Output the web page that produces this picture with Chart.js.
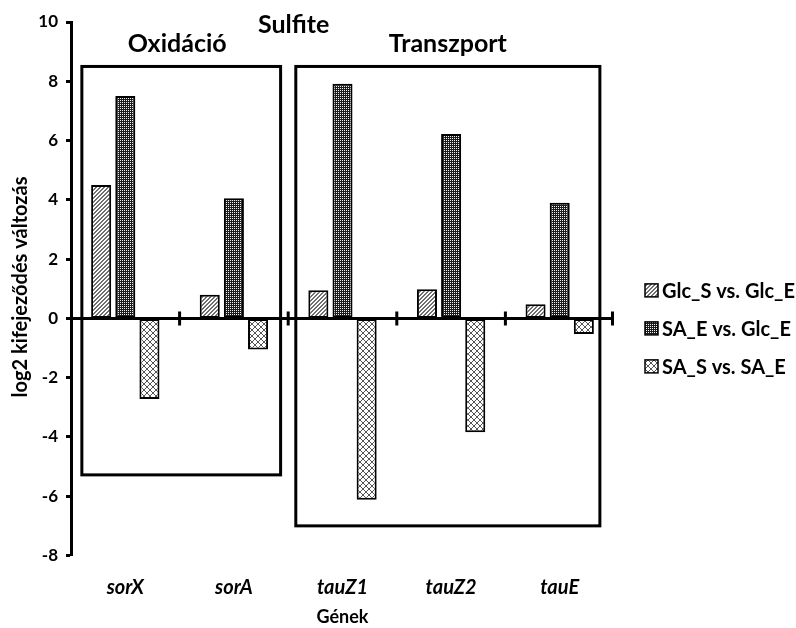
<!DOCTYPE html>
<html>
<head>
<meta charset="utf-8">
<script src="https://cdn.jsdelivr.net/npm/chart.js@4/dist/chart.umd.min.js"></script>
<style>
  html, body { margin: 0; padding: 0; background: #fff; }
  canvas { display: block; }
</style>
</head>
<body>
<canvas id="c" width="796" height="628"></canvas>
<script>
// Gene categories and log2 fold changes per comparison
const categories = ['sorX', 'sorA', 'tauZ1', 'tauZ2', 'tauE'];
const seriesNames = ['Glc_S vs. Glc_E', 'SA_E vs. Glc_E', 'SA_S vs. SA_E'];
const glcS_vs_glcE = [4.5, 0.8, 0.95, 0.98, 0.48];
const saE_vs_glcE = [7.5, 4.05, 7.92, 6.22, 3.9];
const saS_vs_saE = [-2.72, -1.05, -6.12, -3.84, -0.53];

// Value axis ticks
const yMin = -8, yMax = 10, yStep = 2;

// Functional groups: name, category-index span, value span of the frame
const groupNames = ['Oxidáció', 'Transzport'];
const groupSpan = [[-0.4, 1.43], [1.57, 4.37]];
const groupRange = [[-5.28, 8.5], [-7.0, 8.5]];

const mainTitle = 'Sulfite';
const yTitle = 'log2 kifejeződés változás';
const xTitle = 'Gének';

const FONT = 'Lato, "Open Sans", "DejaVu Sans", sans-serif';

const canvas = document.getElementById('c');
const ctx = canvas.getContext('2d');

// Small pixel tiles used as bar fills
function tile(n, bg, fg, on) {
  const c = document.createElement('canvas');
  c.width = n; c.height = n;
  const t = c.getContext('2d');
  t.fillStyle = bg; t.fillRect(0, 0, n, n);
  t.fillStyle = fg;
  for (let i = 0; i < n; i++)
    for (let j = 0; j < n; j++)
      if (on(i, j)) t.fillRect(i, j, 1, 1);
  return ctx.createPattern(c, 'repeat');
}
const fillDiag = tile(4, '#ffffff', '#6e6e6e', (i, j) => (i + j) % 4 >= 2);
const fillDots = tile(2, '#1c1c1c', '#f4f4f4', (i, j) => i === 0 && j === 0);
const fillCross = tile(6, '#ffffff', '#555555', (i, j) => i === j || i + j === 5);
const fills = [fillDiag, fillDots, fillCross];

const decor = {
  id: 'decor',
  afterDatasetsDraw(chart) {
    const c = chart.ctx;
    const xs = chart.scales.x, ys = chart.scales.y, area = chart.chartArea;
    const y0 = ys.getPixelForValue(0);
    const step = xs.getPixelForValue(1) - xs.getPixelForValue(0);
    c.save();
    c.strokeStyle = '#000';
    c.lineCap = 'butt';

    // baseline at zero with category separators
    c.lineWidth = 3;
    c.beginPath();
    c.moveTo(area.left, y0);
    c.lineTo(area.right, y0);
    for (let i = 0; i < categories.length; i++) {
      const x = i === categories.length - 1 ? area.right - 1.5 : xs.getPixelForValue(i) + step / 2;
      c.moveTo(x, y0 - 7);
      c.lineTo(x, y0 + 7);
    }
    c.stroke();

    // group frames and their headings
    c.fillStyle = '#000';
    c.textAlign = 'center';
    c.textBaseline = 'alphabetic';
    c.font = 'bold 25px ' + FONT;
    groupNames.forEach((name, g) => {
      const x1 = xs.getPixelForValue(groupSpan[g][0]);
      const x2 = xs.getPixelForValue(groupSpan[g][1]);
      const yb = ys.getPixelForValue(groupRange[g][0]);
      const yt = ys.getPixelForValue(groupRange[g][1]);
      c.lineWidth = 3;
      c.strokeRect(x1, yt, x2 - x1, yb - yt);
      c.fillText(name, (x1 + x2) / 2 - (g === 0 ? 4 : 0), yt - 14);
    });

    // main title
    c.fillText(mainTitle, xs.getPixelForValue(1.55), area.top + 11);

    // value axis title
    c.save();
    c.font = 'bold 20px ' + FONT;
    c.translate(21, 287);
    c.rotate(-Math.PI / 2);
    c.textBaseline = 'middle';
    c.fillText(yTitle, 0, 0);
    c.restore();

    // legend
    c.font = 'bold 20px ' + FONT;
    c.textAlign = 'left';
    c.textBaseline = 'middle';
    const lx = area.right + 31;
    seriesNames.forEach((name, k) => {
      const cy = y0 - 28 + k * 38;
      c.fillStyle = fills[k];
      c.fillRect(lx, cy - 6.5, 13, 13);
      c.lineWidth = 1.5;
      c.strokeRect(lx, cy - 6.5, 13, 13);
      c.fillStyle = '#000';
      c.fillText(name, lx + 17, cy + 1);
    });
    c.restore();
  }
};

new Chart(ctx, {
  type: 'bar',
  data: {
    labels: categories,
    datasets: [glcS_vs_glcE, saE_vs_glcE, saS_vs_saE].map((vals, k) => ({
      label: seriesNames[k],
      data: vals,
      backgroundColor: fills[k],
      borderColor: '#000',
      borderWidth: 2,
      borderSkipped: false,
      categoryPercentage: 0.667,
      barPercentage: 0.83
    }))
  },
  options: {
    responsive: false,
    animation: false,
    devicePixelRatio: 1,
    layout: { padding: { left: 0, top: 22, right: 182, bottom: 0 } },
    plugins: {
      legend: { display: false },
      tooltip: { enabled: false },
      title: { display: false }
    },
    scales: {
      x: {
        grid: { display: false, drawTicks: false },
        border: { display: false },
        ticks: {
          color: '#000',
          padding: 20,
          font: { family: FONT, size: 20, weight: 'bold', style: 'italic' }
        },
        title: {
          display: true,
          text: xTitle,
          color: '#000',
          padding: { top: 0, bottom: 0 },
          font: { family: FONT, size: 18, weight: 'bold' }
        },
        afterFit(scale) { scale.height = 72.5; }
      },
      y: {
        min: yMin,
        max: yMax,
        ticks: {
          stepSize: yStep,
          color: '#000',
          padding: 8,
          font: { family: FONT, size: 17, weight: 'bold' }
        },
        grid: {
          display: true,
          drawOnChartArea: false,
          drawTicks: true,
          tickLength: 5,
          tickWidth: 3,
          tickColor: '#000',
          color: '#000'
        },
        border: { display: true, color: '#000', width: 3 },
        afterFit(scale) { scale.width = 71; }
      }
    }
  },
  plugins: [decor]
});
</script>
</body>
</html>
